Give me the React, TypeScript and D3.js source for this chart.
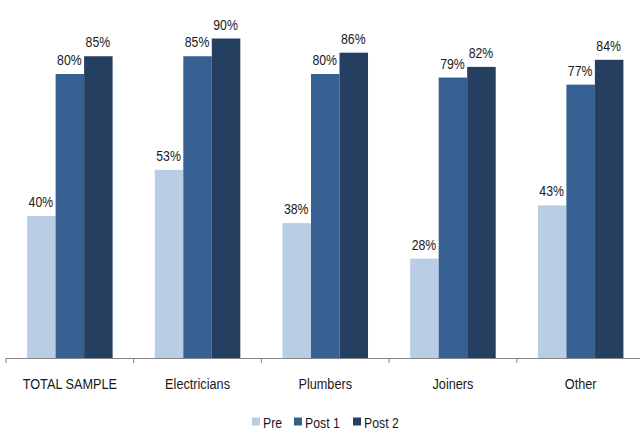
import React from "react";
import * as d3 from "d3";

const categories = ["TOTAL SAMPLE", "Electricians", "Plumbers", "Joiners", "Other"];
const seriesNames = ["Pre", "Post 1", "Post 2"];
const preValues = [40, 53, 38, 28, 43];
const post1Values = [80, 85, 80, 79, 77];
const post2Values = [85, 90, 86, 82, 84];
const seriesValues = [preValues, post1Values, post2Values];
const colors = ["#b9cde5", "#366092", "#243f60"];

const W = 640;
const H = 430;
const FONT = "'Liberation Sans', Arial, sans-serif";
const NARROW = 0.82;

function NText(props: { x: number; y: number; size: number; anchor?: string; children: React.ReactNode }) {
  return (
    <text
      transform={`translate(${props.x},${props.y}) scale(${NARROW},1)`}
      textAnchor={props.anchor || "start"}
      fontSize={props.size}
      fill="#1a1a1a"
    >
      {props.children}
    </text>
  );
}

export default function App() {
  const x0 = d3.scaleBand<string>().domain(categories).range([6, 644.5]).padding(0);
  const x1 = d3
    .scaleBand<string>()
    .domain(seriesNames)
    .range([0, x0.bandwidth()])
    .paddingInner(0)
    .paddingOuter(0.74);
  const y = d3.scaleLinear().domain([0, 100]).range([358, 3]);
  const tickXs = categories.map((c) => x0(c)!).concat([x0.range()[1]]);

  const legendItems = [
    { name: seriesNames[0], x: 252 },
    { name: seriesNames[1], x: 294 },
    { name: seriesNames[2], x: 353 },
  ];

  return (
    <svg
      width={W}
      height={H}
      style={{ position: "absolute", left: 0, top: 0, background: "#fff" }}
      fontFamily={FONT}
    >
      {categories.map((c, ci) => (
        <g key={c} transform={`translate(${x0(c)},0)`}>
          {seriesNames.map((s, si) => {
            const v = seriesValues[si][ci];
            const bx = x1(s)!;
            return (
              <g key={s}>
                <rect x={bx} y={y(v)} width={x1.bandwidth()} height={y(0) - y(v)} fill={colors[si]} />
                <NText x={bx + x1.bandwidth() / 2 - 0.5} y={y(v) - 9} size={15} anchor="middle">
                  {v}%
                </NText>
              </g>
            );
          })}
          <NText x={x0.bandwidth() / 2} y={389} size={15.5} anchor="middle">
            {c}
          </NText>
        </g>
      ))}
      <line x1={6} x2={644.5} y1={358.5} y2={358.5} stroke="#868686" strokeWidth={1} />
      {tickXs.map((tx, i) => (
        <line key={i} x1={tx} x2={tx} y1={358} y2={363} stroke="#868686" strokeWidth={1} />
      ))}
      {legendItems.map((it, i) => (
        <g key={it.name}>
          <rect x={it.x} y={417.5} width={8} height={8} fill={colors[i]} />
          <NText x={it.x + 11} y={428} size={15}>
            {it.name}
          </NText>
        </g>
      ))}
    </svg>
  );
}
